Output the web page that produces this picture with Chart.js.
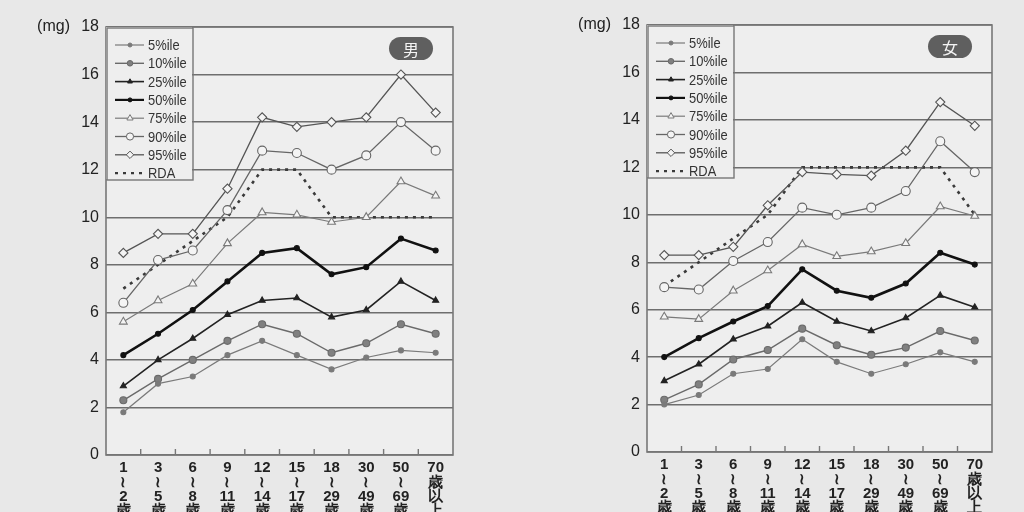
<!DOCTYPE html>
<html>
<head>
<meta charset="utf-8">
<script src="https://cdn.jsdelivr.net/npm/chart.js@4.4.0/dist/chart.umd.min.js"></script>
<style>
html, body { margin: 0; padding: 0; width: 1024px; height: 512px; overflow: hidden; background: #e8e8e8; }
.panel { position: absolute; top: 0; width: 512px; height: 560px; }
</style>
</head>
<body>
<div class="panel" style="left:0"><canvas id="male" width="512" height="560"></canvas></div>
<div class="panel" style="left:512px"><canvas id="female" width="512" height="560"></canvas></div>
<script>
// age groups (stacked vertically under the axis)
const ageGroups = [
    ['1', '≀', '2', '歳'], ['3', '≀', '5', '歳'], ['6', '≀', '8', '歳'], ['9', '≀', '11', '歳'],
    ['12', '≀', '14', '歳'], ['15', '≀', '17', '歳'], ['18', '≀', '29', '歳'], ['30', '≀', '49', '歳'],
    ['50', '≀', '69', '歳'], ['70', '歳', '以', '上']
];
const seriesNames = ['5%ile', '10%ile', '25%ile', '50%ile', '75%ile', '90%ile', '95%ile', 'RDA'];
const yTicks = [0, 2, 4, 6, 8, 10, 12, 14, 16, 18];

// 男 (mg)
const male5 = [1.8, 3.0, 3.3, 4.2, 4.8, 4.2, 3.6, 4.1, 4.4, 4.3];
const male10 = [2.3, 3.2, 4.0, 4.8, 5.5, 5.1, 4.3, 4.7, 5.5, 5.1];
const male25 = [2.9, 4.0, 4.9, 5.9, 6.5, 6.6, 5.8, 6.1, 7.3, 6.5];
const male50 = [4.2, 5.1, 6.1, 7.3, 8.5, 8.7, 7.6, 7.9, 9.1, 8.6];
const male75 = [5.6, 6.5, 7.2, 8.9, 10.2, 10.1, 9.8, 10.0, 11.5, 10.9];
const male90 = [6.4, 8.2, 8.6, 10.3, 12.8, 12.7, 12.0, 12.6, 14.0, 12.8];
const male95 = [8.5, 9.3, 9.3, 11.2, 14.2, 13.8, 14.0, 14.2, 16.0, 14.4];
const maleRda = [7, 8, 9, 10, 12, 12, 10, 10, 10, 10];

// 女 (mg)
const female5 = [2.0, 2.4, 3.3, 3.5, 4.75, 3.8, 3.3, 3.7, 4.2, 3.8];
const female10 = [2.2, 2.85, 3.9, 4.3, 5.2, 4.5, 4.1, 4.4, 5.1, 4.7];
const female25 = [3.0, 3.7, 4.75, 5.3, 6.3, 5.5, 5.1, 5.65, 6.6, 6.1];
const female50 = [4.0, 4.8, 5.5, 6.15, 7.7, 6.8, 6.5, 7.1, 8.4, 7.9];
const female75 = [5.7, 5.6, 6.8, 7.65, 8.75, 8.25, 8.45, 8.8, 10.35, 9.95];
const female90 = [6.95, 6.85, 8.05, 8.85, 10.3, 10.0, 10.3, 11.0, 13.1, 11.8];
const female95 = [8.3, 8.3, 8.65, 10.4, 11.8, 11.7, 11.65, 12.7, 14.75, 13.75];
const femaleRda = [7, 8, 9, 10, 12, 12, 12, 12, 12, 10];

const lineStyles = [
    { borderColor: '#7a7a7a', borderWidth: 1.2, pointStyle: 'circle', pointRadius: 2.5, pointBackgroundColor: '#7a7a7a' },
    { borderColor: '#6a6a6a', borderWidth: 1.4, pointStyle: 'circle', pointRadius: 3.5, pointBackgroundColor: '#808080' },
    { borderColor: '#222', borderWidth: 1.6, pointStyle: 'triangle', pointRadius: 3.5, pointBackgroundColor: '#222' },
    { borderColor: '#111', borderWidth: 2.6, pointStyle: 'circle', pointRadius: 2.5, pointBackgroundColor: '#111' },
    { borderColor: '#7a7a7a', borderWidth: 1.2, pointStyle: 'triangle', pointRadius: 4.5, pointBackgroundColor: '#f4f4f4' },
    { borderColor: '#666', borderWidth: 1.3, pointStyle: 'circle', pointRadius: 4.5, pointBackgroundColor: '#f4f4f4' },
    { borderColor: '#555', borderWidth: 1.3, pointStyle: 'rectRot', pointRadius: 4.6, pointBackgroundColor: '#f4f4f4' },
    { borderColor: '#3a3a3a', borderWidth: 2.6, borderDash: [3, 5], pointRadius: 0 }
];

const decor = {
    id: 'decor',
    beforeDraw(chart) {
        const { ctx, chartArea: a } = chart;
        ctx.save();
        ctx.fillStyle = '#eeeeee';
        ctx.fillRect(a.left, a.top, a.right - a.left, a.bottom - a.top);
        ctx.restore();
    },
    afterDatasetsDraw(chart, args, opts) {
        const { ctx, chartArea: a } = chart;
        const xs = chart.scales.x;
        ctx.save();
        // frame
        ctx.strokeStyle = '#777';
        ctx.lineWidth = 1.6;
        ctx.strokeRect(a.left, a.top, a.right - a.left, a.bottom - a.top);
        // small ticks between age groups
        ctx.lineWidth = 1.4;
        for (let i = 1; i < ageGroups.length; i++) {
            const x = (xs.getPixelForValue(i - 1) + xs.getPixelForValue(i)) / 2;
            ctx.beginPath();
            ctx.moveTo(x, a.bottom);
            ctx.lineTo(x, a.bottom - 6);
            ctx.stroke();
        }
        // unit
        ctx.fillStyle = '#222';
        ctx.font = '16px "Liberation Sans", Arial, sans-serif';
        ctx.textAlign = 'right';
        ctx.textBaseline = 'middle';
        ctx.fillText('(mg)', a.left - 36, a.top);
        // badge
        const bw = 44, bh = 23, bx = a.right - 20 - bw, by = a.top + 10;
        ctx.fillStyle = '#5f5f5f';
        ctx.beginPath();
        ctx.roundRect(bx, by, bw, bh, bh / 2);
        ctx.fill();
        ctx.fillStyle = '#f4f4f4';
        ctx.textAlign = 'center';
        ctx.font = '16px "Noto Sans CJK JP", sans-serif';
        ctx.fillText(opts.badge, bx + bw / 2, by + bh / 2 + 1);
        // legend box
        const lw = 86, lh = 152;
        ctx.fillStyle = '#eeeeee';
        ctx.fillRect(a.left, a.top, lw, lh);
        ctx.strokeStyle = '#777';
        ctx.lineWidth = 1.4;
        ctx.strokeRect(a.left + 1, a.top + 1, lw, lh);
        chart.data.datasets.forEach((ds, i) => {
            const y = a.top + 18 + i * 18.3;
            ctx.save();
            ctx.strokeStyle = ds.borderColor;
            ctx.lineWidth = Math.min(ds.borderWidth, 2.2);
            ctx.setLineDash(ds.borderDash || []);
            ctx.beginPath();
            ctx.moveTo(a.left + 9, y);
            ctx.lineTo(a.left + 38, y);
            ctx.stroke();
            ctx.setLineDash([]);
            if (ds.pointRadius > 0) {
                ctx.fillStyle = ds.pointBackgroundColor;
                ctx.lineWidth = 1;
                Chart.helpers.drawPoint(ctx, { pointStyle: ds.pointStyle, radius: ds.pointRadius * 0.8, rotation: 0, borderWidth: 1 }, a.left + 24, y);
            }
            ctx.restore();
            // narrow legend text
            ctx.save();
            ctx.translate(a.left + 42, y + 1);
            ctx.scale(0.86, 1);
            ctx.fillStyle = '#333';
            ctx.textAlign = 'left';
            ctx.font = '15px "Liberation Sans", Arial, sans-serif';
            ctx.fillText(ds.label, 0, 0);
            ctx.restore();
        });
        ctx.restore();
    }
};

function buildPanel(id, values, badge, box) {
    const datasets = seriesNames.map((name, i) => Object.assign({
        label: name,
        data: values[i],
        pointBorderColor: lineStyles[i].borderColor,
        pointBorderWidth: 1.1,
        tension: 0,
        fill: false
    }, lineStyles[i]));
    new Chart(document.getElementById(id), {
        type: 'line',
        data: { labels: ageGroups, datasets: datasets },
        options: {
            responsive: false,
            animation: false,
            layout: { padding: { left: 0, right: box.right, top: box.top, bottom: 0 } },
            plugins: { legend: { display: false }, tooltip: { enabled: false }, decor: { badge: badge } },
            scales: {
                x: {
                    offset: true,
                    grid: { display: false },
                    border: { display: false },
                    ticks: {
                        color: '#222', autoSkip: false, maxRotation: 0, padding: -2,
                        font: { family: '"Liberation Sans", Arial, sans-serif', size: 15, weight: 'bold', lineHeight: 0.95 }
                    },
                    afterFit: s => { s.height = box.xHeight; }
                },
                y: {
                    min: 0, max: 18,
                    afterBuildTicks: s => { s.ticks = yTicks.map(v => ({ value: v })); },
                    ticks: { color: '#222', padding: 7, font: { family: '"Liberation Sans", Arial, sans-serif', size: 16 } },
                    grid: { color: '#6e6e6e', lineWidth: 1.4, drawTicks: false },
                    border: { display: false },
                    afterFit: s => { s.width = box.yWidth; }
                }
            }
        },
        plugins: [decor]
    });
}

buildPanel('male', [male5, male10, male25, male50, male75, male90, male95, maleRda], '男',
    { yWidth: 106, right: 59, top: 27, xHeight: 105 });
buildPanel('female', [female5, female10, female25, female50, female75, female90, female95, femaleRda], '女',
    { yWidth: 135, right: 32, top: 25, xHeight: 108 });
</script>
</body>
</html>
